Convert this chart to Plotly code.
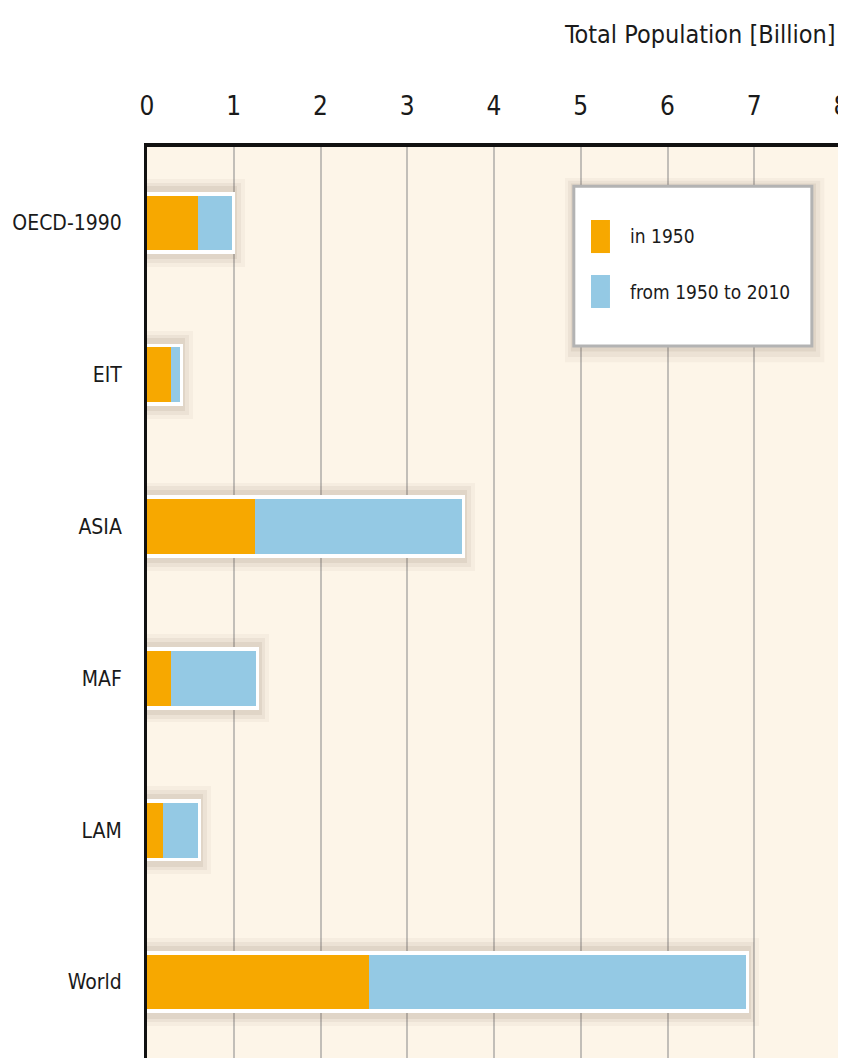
import plotly.graph_objects as go

categories = ["OECD-1990", "EIT", "ASIA", "MAF", "LAM", "World"]
pop_1950 = [0.59, 0.28, 1.245, 0.28, 0.18, 2.56]
growth_1950_2010 = [0.39, 0.10, 2.385, 0.98, 0.41, 4.34]
series_names = ["in 1950", "from 1950 to 2010"]
x_ticks = [0, 1, 2, 3, 4, 5, 6, 7, 8]
axis_title = "Total Population [Billion]"

totals = [a + b for a, b in zip(pop_1950, growth_1950_2010)]

ORANGE = "#F7A800"
BLUE = "#94C9E4"
BG = "#FDF5E8"
FONT = "DejaVu Sans Condensed"

fig = go.Figure()

for extra_w, extra_x, alpha in [(0.17, 0.15, 0.05), (0.12, 0.10, 0.07), (0.07, 0.06, 0.09)]:
    fig.add_trace(go.Bar(
        y=categories, x=[t + extra_x + 0.1 for t in totals], base=[-0.1] * len(totals),
        orientation="h", width=0.41 + extra_w,
        marker=dict(color=f"rgba(110,90,70,{alpha})", line=dict(width=0)),
        hoverinfo="skip", showlegend=False,
    ))

fig.add_trace(go.Bar(
    y=categories, x=[t + 0.035 + 0.05 for t in totals], base=[-0.05] * len(totals),
    orientation="h", width=0.41,
    marker=dict(color="white", line=dict(width=0)),
    hoverinfo="skip", showlegend=False,
))

fig.add_trace(go.Bar(
    y=categories, x=pop_1950, base=[0] * len(pop_1950), orientation="h", width=0.36,
    marker=dict(color=ORANGE, line=dict(width=0)), name=series_names[0], showlegend=False,
))
fig.add_trace(go.Bar(
    y=categories, x=growth_1950_2010, base=pop_1950, orientation="h", width=0.36,
    marker=dict(color=BLUE, line=dict(width=0)), name=series_names[1], showlegend=False,
))

lx0, lx1, ly0, ly1 = 0.615, 0.958, 0.7816, 0.957
shapes = []
for d, a in [(0.018, 0.05), (0.012, 0.07), (0.006, 0.09)]:
    shapes.append(dict(type="rect", xref="paper", yref="paper",
                       x0=lx0 - d * 0.7, x1=lx1 + d, y0=ly0 - d * 1.0, y1=ly1 + d * 0.5,
                       fillcolor=f"rgba(110,90,70,{a})", line=dict(width=0), layer="above"))
shapes.append(dict(type="rect", xref="paper", yref="paper", x0=lx0, x1=lx1, y0=ly0, y1=ly1,
                   fillcolor="white", line=dict(color="#B3B3B3", width=3), layer="above"))
swatches = [(ORANGE, 0.9199, 0.8836), (BLUE, 0.8595, 0.8233)]
for col, y1, y0 in swatches:
    shapes.append(dict(type="rect", xref="paper", yref="paper", x0=0.6398, x1=0.6671,
                       y0=y0, y1=y1, fillcolor=col, line=dict(width=0), layer="above"))

annotations = [
    dict(text=series_names[0], xref="paper", yref="paper", x=0.693, y=0.9023,
         xanchor="left", yanchor="middle", showarrow=False,
         font=dict(family=FONT, size=19, color="#1a1a1a")),
    dict(text=series_names[1], xref="paper", yref="paper", x=0.693, y=0.8408,
         xanchor="left", yanchor="middle", showarrow=False,
         font=dict(family=FONT, size=19, color="#1a1a1a")),
    dict(text=axis_title, xref="paper", yref="paper", x=0.9945, y=1.123,
         xanchor="right", yanchor="middle", showarrow=False,
         font=dict(family=FONT, size=25, color="#1a1a1a")),
]

# page body has an 8px margin; size the figure so the plot lands at the reference position
fig.update_layout(
    width=838, height=1050,
    margin=dict(l=139, r=5, t=139, b=0, pad=0),
    paper_bgcolor="white", plot_bgcolor=BG,
    barmode="overlay", bargap=0,
    showlegend=False,
    shapes=shapes, annotations=annotations,
    font=dict(family=FONT, size=26, color="#1a1a1a"),
)
fig.update_xaxes(
    side="top", range=[0, 8], tickvals=x_ticks, ticktext=[str(v) for v in x_ticks],
    showgrid=True, gridcolor="#C2BEB8", gridwidth=2,
    showline=True, linecolor="#111111", linewidth=4,
    ticks="", ticklabelstandoff=18, zeroline=False, automargin=False,
    ticklabeloverflow="allow",
    tickfont=dict(family=FONT, size=26, color="#1a1a1a"),
)
fig.update_yaxes(
    categoryorder="array", categoryarray=categories, autorange="reversed",
    showgrid=False, showline=True, linecolor="#111111", linewidth=3,
    ticks="", ticklabelstandoff=18, zeroline=False, automargin=False,
    tickfont=dict(family=FONT, size=21, color="#1a1a1a"),
)

fig.write_html("out.html")
